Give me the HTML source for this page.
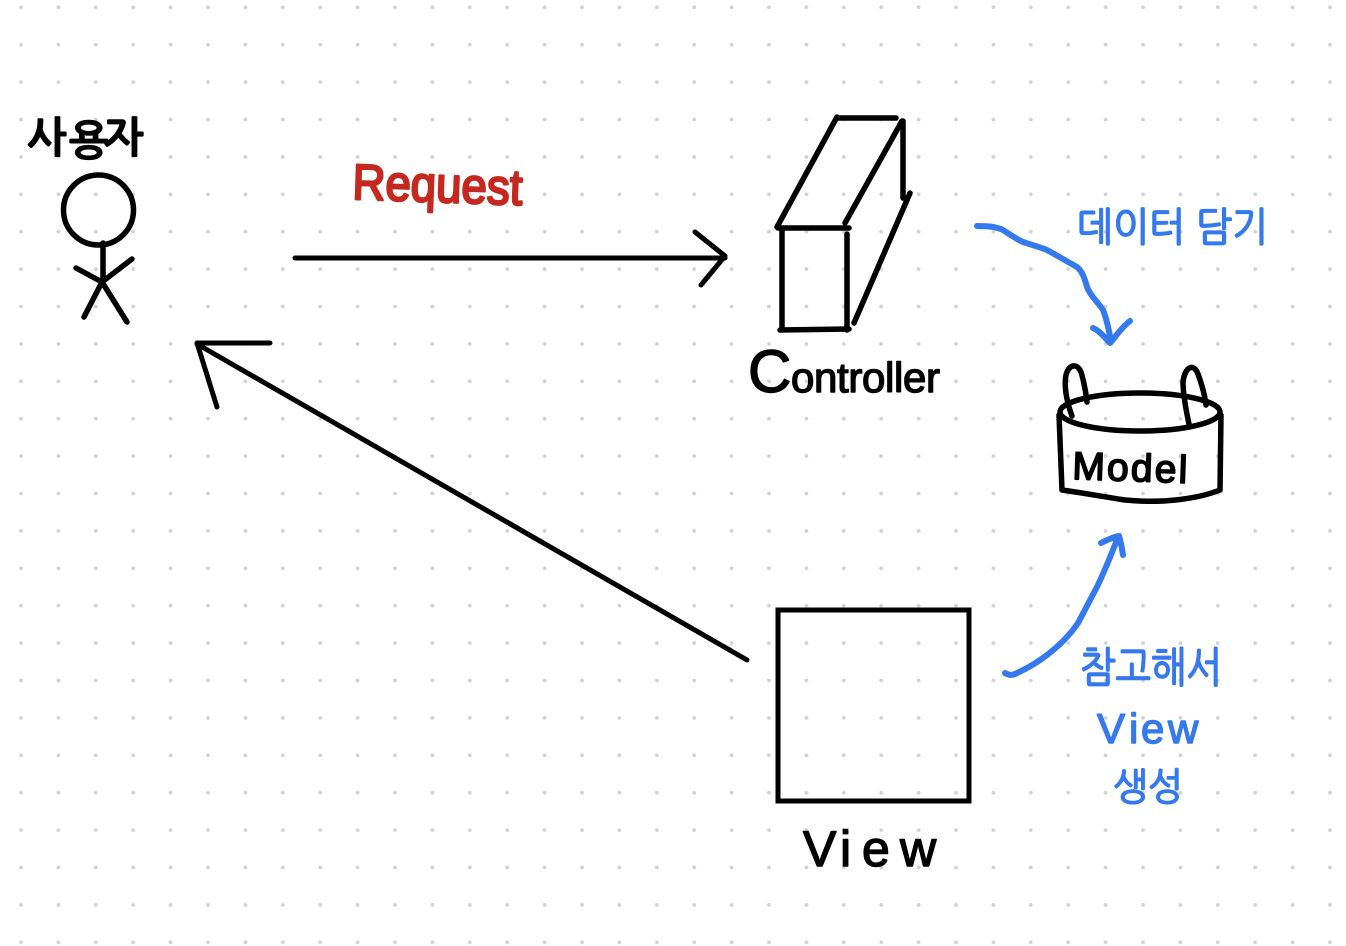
<!DOCTYPE html>
<html lang="ko">
<head>
<meta charset="utf-8">
<title>MVC</title>
<style>
html,body{margin:0;padding:0;background:#fff;width:1346px;height:946px;overflow:hidden}
svg{display:block}
.k{fill:none;stroke:#000;stroke-linecap:round;stroke-linejoin:round}
.b{fill:none;stroke:#3579ee;stroke-width:6;stroke-linecap:round;stroke-linejoin:round}
text{stroke-linejoin:round;stroke-linecap:round}
.en{font-family:"Liberation Sans",sans-serif}
.ko{font-family:"Liberation Sans","NanumGothic","Noto Sans CJK KR",sans-serif}
</style>
</head>
<body>
<svg width="1346" height="946" viewBox="0 0 1346 946" xmlns="http://www.w3.org/2000/svg">
<defs>
<pattern id="d" x="21" y="7.3" width="37.4" height="37.4" patternUnits="userSpaceOnUse">
<circle cx="0" cy="0" r="1.9" fill="#d2d2d2"/>
<circle cx="37.4" cy="0" r="1.9" fill="#d2d2d2"/>
<circle cx="0" cy="37.4" r="1.9" fill="#d2d2d2"/>
<circle cx="37.4" cy="37.4" r="1.9" fill="#d2d2d2"/>
</pattern>
</defs>
<rect width="1346" height="946" fill="#fff"/>
<rect width="1346" height="946" fill="url(#d)"/>

<!-- user -->
<g class="k" stroke-width="5.5">
<circle cx="98.5" cy="210" r="35"/>
<path d="M103 243V282M76 268L102 282L132 259M102 282L84 317M102 282L127 322"/>
</g>
<text class="ko" x="27 69 104" y="152 155 152" font-size="42" font-weight="700" fill="#000" stroke="#000" stroke-width="1">사용자</text>

<!-- request arrow -->
<g class="k" stroke-width="5">
<path d="M295 258H725M695 232L725 256L701 285"/>
<path d="M747 660L197 344M270 343H197L217 407"/>
</g>
<text class="en" x="352" y="199" font-size="50" textLength="170" lengthAdjust="spacingAndGlyphs" fill="#c4281f" stroke="#c4281f" stroke-width="2.4" transform="rotate(2 352 199)">Request</text>

<!-- controller -->
<g class="k" stroke-width="5.5">
<path d="M837 118H896M837 117L777 227M902 121L845 223M903 121V198M910 193L854 323"/>
<path d="M778 228H849M782 230V330M847 234V330M780 330L849 329"/>
</g>
<text class="en" x="748" y="392" font-size="42" textLength="192" lengthAdjust="spacing" fill="#000" stroke="#000" stroke-width="1.4"><tspan font-size="60">C</tspan>ontroller</text>

<!-- model -->
<g class="k" stroke-width="5.5">
<ellipse cx="1140" cy="412" rx="80" ry="19"/>
<path d="M1059 415L1062 490C1090 494 1105 497 1125 500C1165 504 1200 498 1220 490L1221 415"/>
<path d="M1072 416C1066 400 1064 385 1066 375C1069 364 1077 363 1081 372C1084 382 1086 393 1087 402"/>
<path d="M1189 424C1186 410 1183 395 1183 382C1185 366 1194 363 1198 374C1202 385 1205 396 1206 405"/>
</g>
<text class="en" x="1072" y="479" font-size="39" textLength="115" lengthAdjust="spacing" fill="#000" stroke="#000" stroke-width="1.7" transform="rotate(2 1072 479)">Model</text>

<!-- view -->
<rect x="778" y="610" width="191" height="191" fill="none" stroke="#000" stroke-width="5"/>
<text class="en" x="803 840 862 900" y="866" font-size="50" fill="#000" stroke="#000" stroke-width="1.4">View</text>

<!-- blue arrows -->
<path class="b" d="M977 226C990 226 997 227 1003 230C1012 236 1018 240 1023 242C1032 245 1040 247 1047 250C1058 256 1068 262 1077 267C1083 272 1085 280 1087 287C1091 297 1098 302 1103 310C1107 320 1109 330 1111 342M1093 328C1100 331 1105 338 1110 343C1116 336 1122 327 1130 321"/>
<path class="b" d="M1005 673C1010 676 1014 675 1017 673C1028 668 1038 662 1047 655C1060 645 1070 635 1078 623C1085 610 1091 598 1097 587C1105 570 1112 553 1118 537M1101 543C1107 540 1113 537 1119 536C1121 542 1122 549 1123 555"/>

<!-- blue labels -->
<text class="ko" x="1077" y="241" font-size="40" textLength="191" lengthAdjust="spacingAndGlyphs" fill="#3579ee" stroke="#3579ee" stroke-width="1.6">데이터 담기</text>
<text class="ko" x="1080" y="682" font-size="42" textLength="142" lengthAdjust="spacingAndGlyphs" fill="#3579ee" stroke="#3579ee" stroke-width="1.6">참고해서</text>
<text class="en" x="1097 1129 1141 1168" y="743" font-size="42" fill="#3579ee" stroke="#3579ee" stroke-width="1.4">View</text>
<text class="ko" x="1113" y="800" font-size="38" textLength="70" lengthAdjust="spacingAndGlyphs" fill="#3579ee" stroke="#3579ee" stroke-width="1.5">생성</text>
</svg>
</body>
</html>
